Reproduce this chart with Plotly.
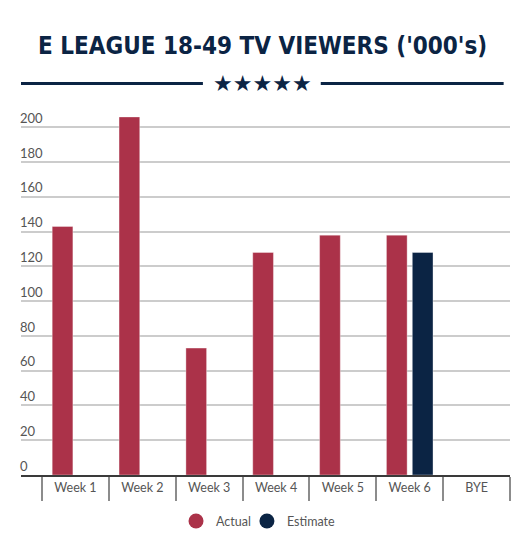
import plotly.graph_objects as go

weeks = ["Week 1", "Week 2", "Week 3", "Week 4", "Week 5", "Week 6", "BYE"]
actual = [143, 206, 73, 128, 138, 138, None]
estimate = [None, None, None, None, None, 128, None]
y_ticks = [0, 20, 40, 60, 80, 100, 120, 140, 160, 180, 200]

RED = "#AB3249"
NAVY = "#0B2444"
FONT = "Lato"

fig = go.Figure()
fig.add_trace(go.Bar(x=weeks, y=actual, name="Actual", marker=dict(color=RED, line=dict(color="rgba(255,255,255,0.35)", width=1)), showlegend=False))
fig.add_trace(go.Bar(x=weeks, y=estimate, name="Estimate", marker=dict(color=NAVY, line=dict(color="rgba(255,255,255,0.35)", width=1)), showlegend=False))
# legend entries (circles)
fig.add_trace(go.Scatter(x=[None], y=[None], mode="markers", name="Actual", legend="legend",
                         marker=dict(color=RED, size=15, symbol="circle")))
fig.add_trace(go.Scatter(x=[None], y=[None], mode="markers", name="Estimate", legend="legend2",
                         marker=dict(color=NAVY, size=15, symbol="circle")))

leg_font = dict(family=FONT, size=12.5, color="#555555")

# the page body adds an 8px offset, so the figure is sized/margined to compensate
fig.update_layout(
    width=522, height=542,
    margin=dict(l=13, r=20, t=102, b=75),
    paper_bgcolor="white", plot_bgcolor="white",
    barmode="group", bargap=0.226, bargroupgap=0.2,
    font=dict(family=FONT, color="#555555", size=13),
    showlegend=True,
    legend=dict(orientation="h", x=0.317, xanchor="left", y=-0.086, yanchor="top",
                bgcolor="rgba(0,0,0,0)", font=leg_font, itemsizing="trace"),
    legend2=dict(orientation="h", x=0.462, xanchor="left", y=-0.086, yanchor="top",
                 bgcolor="rgba(0,0,0,0)", font=leg_font, itemsizing="trace"),
    xaxis=dict(range=[-0.815, 6.5], showgrid=False, showline=True, linecolor="#3a3a3a", linewidth=2,
               ticks="outside", tickson="boundaries", ticklen=24, tickwidth=2, tickcolor="#8c8c8c",
               tickfont=dict(family=FONT, size=12.5, color="#555555"), fixedrange=True),
    yaxis=dict(range=[0, 210], tickvals=y_ticks, showgrid=True, gridcolor="#cccccc", gridwidth=2,
               zeroline=False, showline=False, ticks="", ticklabelposition="inside",
               ticklabelshift=-9, ticklabelstandoff=-4, ticklabeloverflow="allow",
               tickfont=dict(family=FONT, size=13, color="#555555")),
    annotations=[
        dict(text="<b>E LEAGUE 18-49 TV VIEWERS ('000's)</b>", xref="paper", yref="paper",
             x=0.494, y=1.176, xanchor="center", yanchor="middle", showarrow=False,
             font=dict(family="DejaVu Sans Condensed, DejaVu Sans, sans-serif", size=24, color=NAVY)),
        dict(text="★★★★★", xref="paper", yref="paper", x=0.494, y=1.072, xanchor="center", yanchor="middle",
             showarrow=False, font=dict(family="DejaVu Sans", size=22, color=NAVY)),
    ],
    shapes=[
        dict(type="line", xref="paper", yref="paper", x0=0.0, x1=0.372, y0=1.0723, y1=1.0723, line=dict(color=NAVY, width=3)),
        dict(type="line", xref="paper", yref="paper", x0=0.613, x1=0.987, y0=1.0723, y1=1.0723, line=dict(color=NAVY, width=3)),
    ],
)

fig.write_html("out.html")
